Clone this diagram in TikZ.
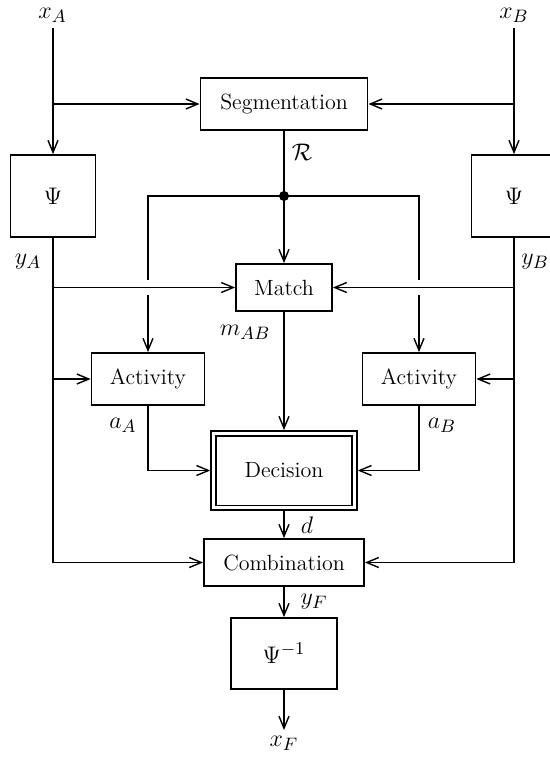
\documentclass[tikz,border=0pt]{standalone}
\usetikzlibrary{arrows.meta,calc}
\begin{document}
\begin{tikzpicture}[x=0.5pt,y=-0.5pt,line width=0.9pt,
  box/.style={draw, inner sep=0pt, font=\fontsize{11}{13}\selectfont},
  lbl/.style={inner sep=0pt, font=\fontsize{13}{15}\selectfont},
  arr/.style={-{Straight Barb[length=6pt,width=5pt,line width=0.7pt]}}]
\useasboundingbox (0,0) rectangle (550,760);
% boxes
\node[box, minimum width=83.5pt, minimum height=26pt] (seg) at (284,104) {Segmentation};
\node[box, font=\fontsize{13}{15}\selectfont, minimum width=42.5pt, minimum height=41pt] (psiA) at (53,196) {$\Psi$};
\node[box, font=\fontsize{13}{15}\selectfont, minimum width=42.5pt, minimum height=41pt] (psiB) at (514,196) {$\Psi$};
\node[box, minimum width=48pt, minimum height=23.5pt] (match) at (284,287.5) {Match};
\node[box, minimum width=56.5pt, minimum height=26pt] (actA) at (148,379) {Activity};
\node[box, minimum width=56.5pt, minimum height=26pt] (actB) at (419,379) {Activity};
\node[box, double, double distance=1.4pt, outer sep=1.6pt, minimum width=70.5pt, minimum height=37.2pt] (dec) at (284,470.5) {Decision};
\node[box, minimum width=80pt, minimum height=23.5pt] (comb) at (284,562.5) {Combination};
\node[box, font=\fontsize{13}{15}\selectfont, minimum width=53pt, minimum height=35.5pt] (psiInv) at (284,653.5) {$\Psi^{-1}$};
% labels
\node[lbl] (lxA) at (52.6,15) {$x_A$};
\node[lbl] (lxB) at (514,15) {$x_B$};
\node[lbl] (lR) at (302,152) {$\mathcal{R}$};
\node[lbl] (lyA) at (28,262) {$y_A$};
\node[lbl] (lyB) at (535,262) {$y_B$};
\node[lbl] (lmAB) at (245,332) {$m_{AB}$};
\node[lbl] (laA) at (123,425) {$a_A$};
\node[lbl] (laB) at (442,425) {$a_B$};
\node[lbl] (ld) at (307,525) {$d$};
\node[lbl] (lyF) at (314,602) {$y_F$};
\node[lbl] (lxF) at (284,743) {$x_F$};
% coordinates
\coordinate (ta) at (53,28);
\coordinate (tb) at (514,28);
\coordinate (dot) at (284,196);
\coordinate (cL) at (actA.north |- match);
\coordinate (cR) at (actB.north |- match);
\coordinate (xfend) at (284,730);
% connectors
\draw[arr] (ta) -- (psiA.north);
\draw[arr] (tb) -- (psiB.north);
\draw[arr] (ta |- seg) -- (seg.west);
\draw[arr] (tb |- seg) -- (seg.east);
\draw[arr] (psiA.south) -- (psiA.south |- comb) -- (comb.west);
\draw[arr] (psiB.south) -- (psiB.south |- comb) -- (comb.east);
\draw[arr] (psiA.south |- match) -- (match.west);
\draw[arr] (psiB.south |- match) -- (match.east);
\draw[arr] (psiA.south |- actA) -- (actA.west);
\draw[arr] (psiB.south |- actB) -- (actB.east);
\draw (seg.south) -- (dot);
\draw[arr] (dot) -- (match.north);
\draw (dot) -- (cL |- dot) -- ($(cL)+(0,-7.5)$);
\draw[arr] ($(cL)+(0,7.5)$) -- (actA.north);
\draw (dot) -- (cR |- dot) -- ($(cR)+(0,-7.5)$);
\draw[arr] ($(cR)+(0,7.5)$) -- (actB.north);
\fill (dot) circle (2.5pt);
\draw[arr] (match.south) -- (dec.north);
\draw[arr] (actA.south) -- (actA.south |- dec) -- (dec.west);
\draw[arr] (actB.south) -- (actB.south |- dec) -- (dec.east);
\draw[arr] (dec.south) -- (comb.north);
\draw[arr] (comb.south) -- (psiInv.north);
\draw[arr] (psiInv.south) -- (xfend);
\end{tikzpicture}
\end{document}
